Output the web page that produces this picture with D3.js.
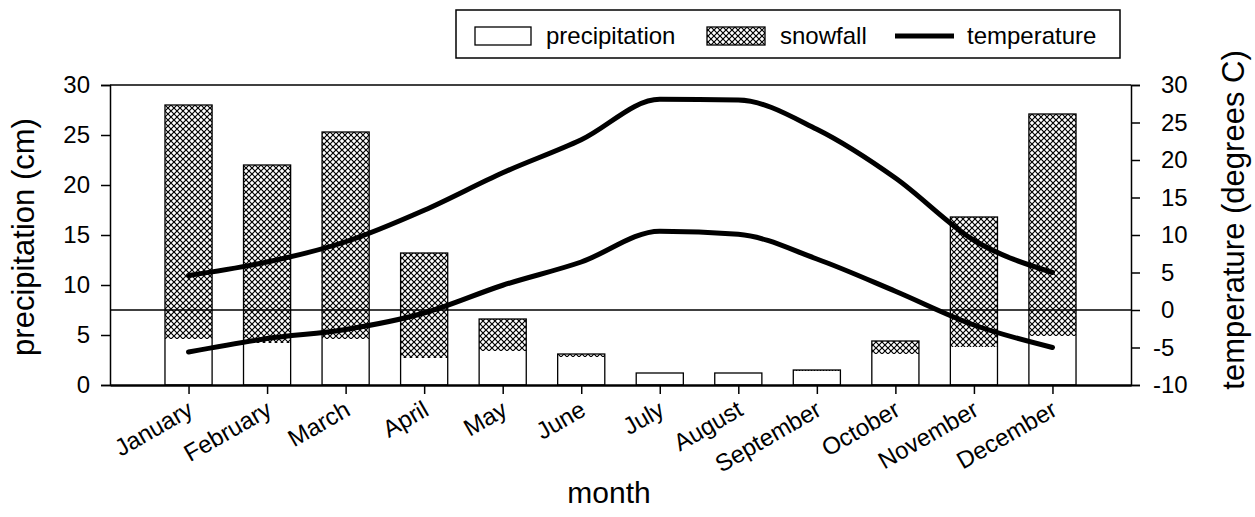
<!DOCTYPE html>
<html>
<head>
<meta charset="utf-8">
<script src="https://cdn.jsdelivr.net/npm/d3@7"></script>
<style>
  body { margin: 0; background: #fff; }
  svg { font-family: "Liberation Sans", Arial, sans-serif; }
</style>
</head>
<body>
<div id="chart"></div>
<script>
// data
var months = ["January", "February", "March", "April", "May", "June",
              "July", "August", "September", "October", "November", "December"];
var precipitation = [4.6, 4.2, 4.6, 2.7, 3.4, 2.8, 1.2, 1.2, 1.4, 3.1, 3.8, 4.9];
var snowfall = [23.4, 17.8, 20.7, 10.5, 3.2, 0.3, 0, 0, 0.1, 1.3, 13.0, 22.2];
var tempHigh = [4.6, 6.4, 9.1, 13.3, 18.3, 22.7, 28.1, 28.0, 24.1, 17.6, 9.3, 5.0];
var tempLow = [-5.6, -3.8, -2.6, -0.4, 3.3, 6.4, 10.5, 10.1, 6.8, 2.5, -2.0, -5.0];
var precipTicks = [0, 5, 10, 15, 20, 25, 30];
var tempTicks = [-10, -5, 0, 5, 10, 15, 20, 25, 30];

var rows = months.map(function(m, i) {
  return {month: m, precipitation: precipitation[i], snowfall: snowfall[i]};
});
var stacked = d3.stack().keys(["precipitation", "snowfall"])(rows);

// size settings
var W = 1255, H = 517;
var plotL = 110, plotR = 1131, plotT = 85, plotB = 385;

var svg = d3.select("#chart").append("svg").attr("width", W).attr("height", H);

// hatch pattern
var pat = svg.append("defs").append("pattern")
    .attr("id", "hatch")
    .attr("patternUnits", "userSpaceOnUse")
    .attr("width", 6).attr("height", 6);
pat.append("rect").attr("width", 6).attr("height", 6).attr("fill", "#fff");
pat.append("path")
    .attr("d", "M0,0L6,6M6,0L0,6")
    .attr("stroke", "#000").attr("stroke-width", 1.2);

// scales
var x = d3.scalePoint().domain(months).range([plotL, plotR]).padding(1);
var y = d3.scaleLinear().domain([0, 30]).range([plotB, plotT]);
var yT = d3.scaleLinear().domain([-10, 30]).range([plotB, plotT]);
var barW = x.step() * 0.6;

// bars
var fills = {precipitation: "#fff", snowfall: "url(#hatch)"};
svg.selectAll("g.layer")
  .data(stacked)
  .enter().append("g")
    .attr("class", "layer")
    .attr("fill", function(d) { return fills[d.key]; })
  .selectAll("rect")
  .data(function(d) { return d; })
  .enter().append("rect")
    .attr("x", function(d) { return x(d.data.month) - barW / 2; })
    .attr("width", barW)
    .attr("y", function(d) { return y(d[1]); })
    .attr("height", function(d) { return y(d[0]) - y(d[1]); });

// bar outlines
svg.append("g").selectAll("rect")
  .data(rows)
  .enter().append("rect")
    .attr("x", function(d) { return x(d.month) - barW / 2; })
    .attr("width", barW)
    .attr("y", function(d) { return y(d.precipitation + d.snowfall); })
    .attr("height", function(d) { return plotB - y(d.precipitation + d.snowfall); })
    .attr("fill", "none")
    .attr("stroke", "#000")
    .attr("stroke-width", 1.3);

// zero line of temperature
svg.append("line")
    .attr("x1", plotL).attr("x2", plotR)
    .attr("y1", yT(0)).attr("y2", yT(0))
    .attr("stroke", "#000").attr("stroke-width", 1.5);

// temperature lines
var line = d3.line()
    .x(function(d, i) { return x(months[i]); })
    .y(function(d) { return yT(d); })
    .curve(d3.curveMonotoneX);

[tempHigh, tempLow].forEach(function(s) {
  svg.append("path")
      .attr("d", line(s))
      .attr("fill", "none")
      .attr("stroke", "#000")
      .attr("stroke-width", 5)
      .attr("stroke-linecap", "round");
});

// frame top
svg.append("line")
    .attr("x1", plotL).attr("x2", plotR).attr("y1", plotT).attr("y2", plotT)
    .attr("stroke", "#000").attr("stroke-width", 1.5);

// AXIS
var fontTick = 24;

var gl = svg.append("g").attr("transform", "translate(" + plotL + ",0)")
    .call(d3.axisLeft(y).tickValues(precipTicks).tickSize(9).tickPadding(11));
gl.selectAll("text").attr("font-size", fontTick).attr("font-family", null).attr("fill", "#000");

var gr = svg.append("g").attr("transform", "translate(" + plotR + ",0)")
    .call(d3.axisRight(yT).tickValues(tempTicks).tickSize(9).tickFormat(""));
// right labels: digits left-aligned, minus sign hangs
tempTicks.forEach(function(t) {
  svg.append("text")
      .attr("x", plotR + 30).attr("y", yT(t)).attr("dy", "0.35em")
      .attr("font-size", fontTick)
      .text(Math.abs(t));
  if (t < 0) {
    svg.append("text")
        .attr("x", plotR + 30).attr("y", yT(t)).attr("dy", "0.35em")
        .attr("text-anchor", "end")
        .attr("font-size", fontTick)
        .text("-");
  }
});

var gb = svg.append("g").attr("transform", "translate(0," + plotB + ")")
    .call(d3.axisBottom(x).tickSize(9).tickSizeOuter(0).tickFormat(""));
gb.select(".domain").attr("stroke-width", 2.5);
gb.selectAll(".tick line").attr("stroke-width", 1.5);
[gl, gr].forEach(function(g) {
  g.select(".domain").attr("stroke-width", 1.5);
  g.selectAll(".tick line").attr("stroke-width", 1.5);
});

months.forEach(function(m) {
  svg.append("text")
      .attr("transform", "translate(" + (x(m) + 2) + "," + (plotB + 22) + ") rotate(-30)")
      .attr("text-anchor", "end")
      .attr("dy", "0.35em")
      .attr("font-size", fontTick)
      .text(m);
});

// titles
svg.append("text")
    .attr("transform", "translate(34,237) rotate(-90)")
    .attr("text-anchor", "middle")
    .attr("font-size", 31)
    .text("precipitation (cm)");

svg.append("text")
    .attr("transform", "translate(1244,220) rotate(-90)")
    .attr("text-anchor", "middle")
    .attr("font-size", 31)
    .text("temperature (degrees C)");

svg.append("text")
    .attr("x", 609).attr("y", 503)
    .attr("text-anchor", "middle")
    .attr("font-size", 30)
    .text("month");

// LEGEND
var lg = svg.append("g");
lg.append("rect")
    .attr("x", 456).attr("y", 10).attr("width", 664).attr("height", 48)
    .attr("fill", "#fff").attr("stroke", "#000").attr("stroke-width", 1.5);
lg.append("rect")
    .attr("x", 475).attr("y", 27).attr("width", 56).attr("height", 18)
    .attr("fill", "#fff").attr("stroke", "#000").attr("stroke-width", 1.3);
lg.append("rect")
    .attr("x", 707).attr("y", 27).attr("width", 58).attr("height", 18)
    .attr("fill", "url(#hatch)").attr("stroke", "#000").attr("stroke-width", 1.3);
lg.append("line")
    .attr("x1", 895).attr("x2", 954).attr("y1", 36).attr("y2", 36)
    .attr("stroke", "#000").attr("stroke-width", 5);
[["precipitation", 546], ["snowfall", 780], ["temperature", 967]].forEach(function(d) {
  lg.append("text")
      .attr("x", d[1]).attr("y", 36).attr("dy", "0.35em")
      .attr("font-size", fontTick)
      .text(d[0]);
});
</script>
</body>
</html>
